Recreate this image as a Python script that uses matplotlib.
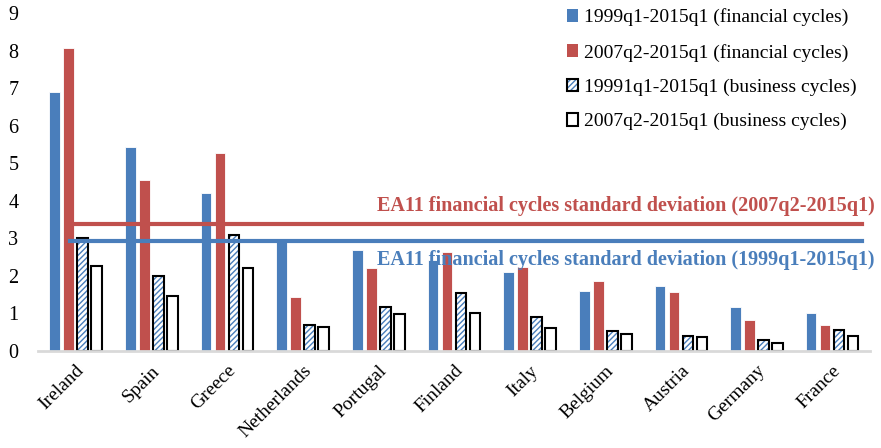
import matplotlib.pyplot as plt
import numpy as np
from matplotlib.patches import Patch

plt.rcParams['font.family'] = ['Liberation Serif', 'DejaVu Serif']
plt.rcParams['hatch.linewidth'] = 1.0

# datos
paises = ["Ireland", "Spain", "Greece", "Netherlands", "Portugal", "Finland",
          "Italy", "Belgium", "Austria", "Germany", "France"]
fin_1999 = [6.89, 5.44, 4.21, 2.95, 2.69, 2.42, 2.10, 1.59, 1.72, 1.16, 1.00]
fin_2007 = [8.06, 4.56, 5.28, 1.43, 2.21, 2.63, 2.23, 1.86, 1.56, 0.82, 0.68]
bus_1999 = [3.01, 1.99, 3.09, 0.68, 1.16, 1.54, 0.90, 0.52, 0.39, 0.28, 0.55]
bus_2007 = [2.26, 1.46, 2.21, 0.63, 0.98, 1.00, 0.60, 0.44, 0.36, 0.20, 0.41]
sd_2007 = 3.38
sd_1999 = 2.93

etiquetas = ["1999q1-2015q1 (financial cycles)", "2007q2-2015q1 (financial cycles)",
             "19991q1-2015q1 (business cycles)", "2007q2-2015q1 (business cycles)"]

azul = "#4a7ebb"
rojo = "#c0504d"

fig = plt.figure(figsize=(8.81, 4.48), dpi=100)
ax = fig.add_axes([0.043, 0.2165, 0.9445, 0.7545])

x = np.arange(len(paises))
w = 0.14
paso = 0.185

ax.bar(x - 1.5 * paso, fin_1999, w, color=azul, edgecolor="white", linewidth=0.6)
ax.bar(x - 0.5 * paso, fin_2007, w, color=rojo, edgecolor="white", linewidth=0.6)
ax.bar(x + 0.5 * paso, bus_1999, w, color="white", edgecolor=azul, hatch="//////", linewidth=0)
ax.bar(x + 0.5 * paso, bus_1999, w, fill=False, edgecolor="black", linewidth=1.5)
ax.bar(x + 1.5 * paso, bus_2007, w, color="white", edgecolor=rojo, hatch="::", linewidth=0)
ax.bar(x + 1.5 * paso, bus_2007, w, fill=False, edgecolor="black", linewidth=1.5)

ax.plot([-0.08, 10.4], [sd_2007, sd_2007], color=rojo, linewidth=3, zorder=5)
ax.plot([-0.08, 10.4], [sd_1999, sd_1999], color=azul, linewidth=3, zorder=5)
ax.text(1.006, 3.85, "EA11 financial cycles standard deviation (2007q2-2015q1)",
        color=rojo, fontsize=14.5, fontweight="bold", ha="right", va="center",
        transform=ax.get_yaxis_transform())
ax.text(1.006, 2.42, "EA11 financial cycles standard deviation (1999q1-2015q1)",
        color=azul, fontsize=14.5, fontweight="bold", ha="right", va="center", zorder=6,
        transform=ax.get_yaxis_transform())

ax.set_xlim(-0.5, 10.5)
ax.set_ylim(0, 9)
ax.set_yticks(range(0, 10))
ax.tick_params(axis="y", length=0, labelsize=14.5, pad=14)
ax.tick_params(axis="x", length=0, labelsize=14, pad=8)
ax.set_xticks(x)
ax.set_xticklabels(paises, rotation=45, ha="right", rotation_mode="anchor")
for lado in ["top", "right", "left"]:
    ax.spines[lado].set_visible(False)
ax.spines["bottom"].set_color("#d9d9d9")
ax.spines["bottom"].set_linewidth(2)

h1 = Patch(facecolor=azul)
h2 = Patch(facecolor=rojo)
h3 = (Patch(facecolor="white", edgecolor=azul, hatch="//////", linewidth=0),
      Patch(fill=False, edgecolor="black", linewidth=1.5))
h4 = (Patch(facecolor="white", edgecolor=rojo, hatch="::", linewidth=0),
      Patch(fill=False, edgecolor="black", linewidth=1.5))
ax.legend([h1, h2, h3, h4], etiquetas,
          loc="upper right", bbox_to_anchor=(1.005, 1.065), frameon=False, fontsize=14,
          handlelength=0.6, handleheight=0.6, handletextpad=0.3, labelspacing=0.88)

fig.savefig("out.png", dpi=100)
